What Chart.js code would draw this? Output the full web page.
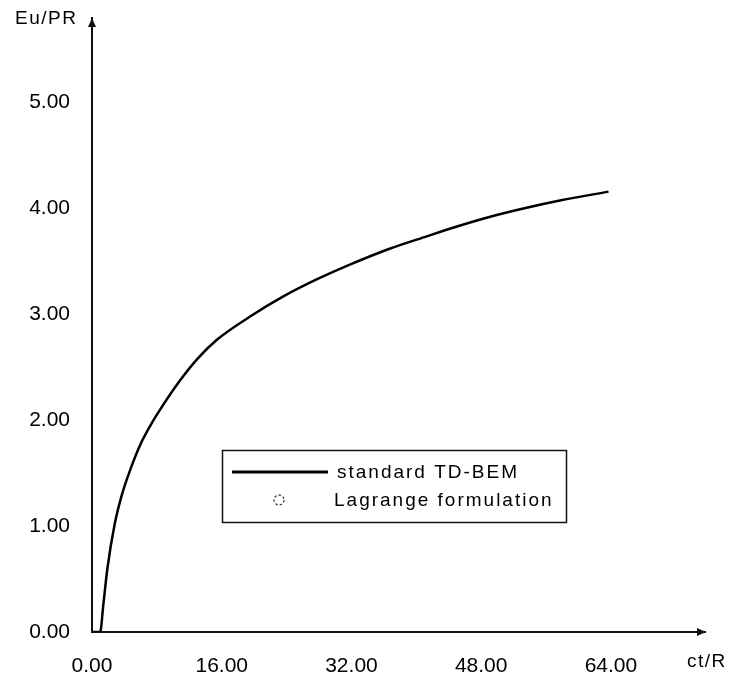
<!DOCTYPE html>
<html>
<head>
<meta charset="utf-8">
<script src="https://cdn.jsdelivr.net/npm/chart.js@4.4.1/dist/chart.umd.min.js"></script>
<style>
  html, body { margin: 0; padding: 0; background: #fff; }
  #wrap { width: 743px; height: 684px; }
</style>
</head>
<body>
<div id="wrap"><canvas id="chart" width="743" height="684"></canvas></div>
<script>
// data
var ctR  = [0, 1.0, 1.4, 1.9, 2.8, 3.7, 4.8, 5.9, 7.2, 8.4, 10.8, 13, 15.4, 19.5, 23.6, 27.7, 31.8, 36.7, 41, 45, 49, 53.2, 58, 63.7];
var euPR = [0, 0, 0.26, 0.60, 1.02, 1.30, 1.55, 1.76, 1.95, 2.10, 2.37, 2.58, 2.76, 2.98, 3.17, 3.33, 3.47, 3.62, 3.73, 3.83, 3.92, 4.00, 4.08, 4.16];
// no Lagrange markers are visible in the plot, only in the legend
var lagrangeCt = [];
var lagrangeEu = [];

var xTicks = [0, 16, 32, 48, 64];
var yTicks = [0, 1, 2, 3, 4, 5];
var xTitle = "ct/R";
var yTitle = "Eu/PR";

var FONT = "'Liberation Sans', Arial, sans-serif";

function toPoints(xs, ys) {
    var pts = [];
    for (let i = 0; i < xs.length; i++) {
        pts.push({x: xs[i], y: ys[i]});
    }
    return pts;
}

// arrows, axis titles and the boxed legend
var decorPlugin = {
    id: "decor",
    afterDraw: function (chart) {
        var ctx = chart.ctx;
        var a = chart.chartArea;
        ctx.save();
        ctx.fillStyle = "#111";

        // y arrow
        ctx.beginPath();
        ctx.moveTo(a.left, a.top);
        ctx.lineTo(a.left - 4, a.top + 9);
        ctx.lineTo(a.left + 4, a.top + 9);
        ctx.closePath();
        ctx.fill();

        // x arrow
        ctx.beginPath();
        ctx.moveTo(a.right + 1, a.bottom);
        ctx.lineTo(a.right - 8, a.bottom - 4);
        ctx.lineTo(a.right - 8, a.bottom + 4);
        ctx.closePath();
        ctx.fill();

        ctx.fillStyle = "#000";
        ctx.font = "19px " + FONT;
        ctx.letterSpacing = "1.5px";
        ctx.textBaseline = "alphabetic";
        ctx.textAlign = "left";
        ctx.fillText(yTitle, 15, 24);
        ctx.fillText(xTitle, 687, 667);

        // legend box
        var ds = chart.data.datasets;
        ctx.lineWidth = 1.5;
        ctx.strokeStyle = "#111";
        ctx.strokeRect(222.5, 450.5, 344, 72);

        ctx.lineWidth = 3;
        ctx.strokeStyle = ds[0].borderColor;
        ctx.beginPath();
        ctx.moveTo(232, 472);
        ctx.lineTo(328, 472);
        ctx.stroke();

        ctx.lineWidth = 1.3;
        ctx.strokeStyle = ds[1].borderColor;
        ctx.setLineDash([2.5, 2]);
        ctx.beginPath();
        ctx.arc(279, 500, 5, 0, Math.PI * 2);
        ctx.stroke();
        ctx.setLineDash([]);

        ctx.letterSpacing = "2px";
        ctx.fillStyle = "#000";
        ctx.fillText(ds[0].label, 337, 478);
        ctx.fillText(ds[1].label, 334, 506);
        ctx.restore();
    }
};

var ctx1 = document.getElementById("chart").getContext("2d");
var myChart = new Chart(ctx1, {
    type: "line",
    data: {
        datasets: [{
                label: "standard TD-BEM",
                data: toPoints(ctR, euPR),
                borderColor: "#000",
                borderWidth: 2.5,
                pointRadius: 0,
                cubicInterpolationMode: "monotone",
                fill: false
            },
            {
                label: "Lagrange formulation",
                data: toPoints(lagrangeCt, lagrangeEu),
                borderColor: "#444",
                backgroundColor: "#fff",
                showLine: false,
                pointRadius: 5,
                pointStyle: "circle"
            }
        ]
    },
    options: {
        responsive: false,
        animation: false,
        layout: {
            padding: {top: 18, right: 38, bottom: 0, left: 0}
        },
        plugins: {
            legend: {display: false},
            tooltip: {enabled: false}
        },
        scales: {
            x: {
                type: "linear",
                min: 0,
                max: 75.6,
                grid: {display: false, drawTicks: false},
                border: {display: true, color: "#111", width: 2},
                afterBuildTicks: function (s) {
                    s.ticks = xTicks.map(function (v) { return {value: v}; });
                },
                afterFit: function (s) { s.height = 52; },
                ticks: {
                    autoSkip: false,
                    maxRotation: 0,
                    padding: 22,
                    color: "#000",
                    font: {family: FONT, size: 21},
                    callback: function (v) { return Number(v).toFixed(2); }
                }
            },
            y: {
                min: 0,
                max: 5.8,
                grid: {display: false, drawTicks: false},
                border: {display: true, color: "#111", width: 2},
                afterBuildTicks: function (s) {
                    s.ticks = yTicks.map(function (v) { return {value: v}; });
                },
                afterFit: function (s) {
                    s.width = 92;
                    s.paddingTop = 0;
                    s.paddingBottom = 0;
                },
                ticks: {
                    autoSkip: false,
                    padding: 22,
                    color: "#000",
                    font: {family: FONT, size: 21},
                    callback: function (v) { return Number(v).toFixed(2); }
                }
            }
        }
    },
    plugins: [decorPlugin]
});
</script>
</body>
</html>
